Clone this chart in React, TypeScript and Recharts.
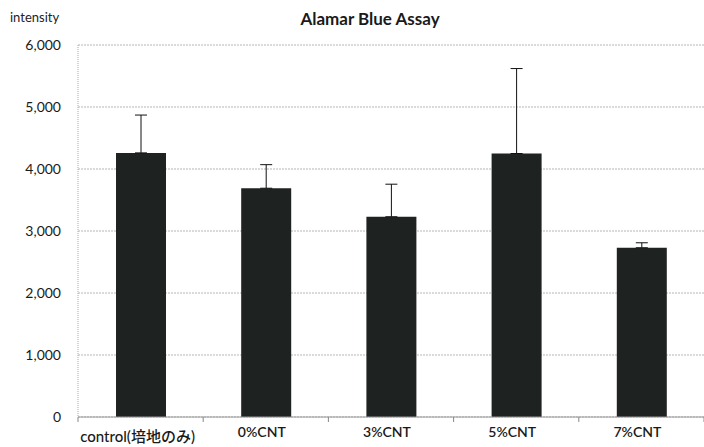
import { BarChart, Bar, XAxis, YAxis, CartesianGrid, ErrorBar } from 'recharts';

// Alamar Blue Assay: intensity per sample group, with upward SD error bars
const categories = ['control(培地のみ)', '0%CNT', '3%CNT', '5%CNT', '7%CNT'];
const intensity = [4260, 3690, 3230, 4250, 2730];
const errorUp = [610, 380, 525, 1370, 80];
const yTicks = [0, 1000, 2000, 3000, 4000, 5000, 6000];

const data = categories.map((name, i) => ({
  name,
  value: intensity[i],
  err: [0, errorUp[i]],
}));

const FONT = 'Lato, "Open Sans", "Noto Sans CJK JP", sans-serif';

function CategoryTick(props: any) {
  const { x, y, payload, index } = props;
  const half = 62.6;
  const first = index === 0;
  return (
    <g>
      <line x1={x - half} y1={y - 8} x2={x - half} y2={y - 3} stroke="#888" />
      {index === categories.length - 1 && (
        <line x1={x + half} y1={y - 8} x2={x + half} y2={y - 3} stroke="#888" />
      )}
      <text
        x={first ? x - 3 : x - 4}
        y={y + (first ? 17 : 12)}
        textAnchor="middle"
        fontSize={first ? 15 : 14}
        fontWeight={first ? 500 : 600}
        fill="#1a1a1a"
        fontFamily={FONT}
      >
        {payload.value}
      </text>
    </g>
  );
}

export default function App() {
  return (
    <div style={{ position: 'absolute', left: 0, top: 0, width: 704, height: 447, background: '#fff', fontFamily: FONT }}>
      <div style={{ position: 'absolute', left: 10, top: 9, fontSize: 13, color: '#222' }}>intensity</div>
      <div style={{ position: 'absolute', left: 0, width: 740, top: 8, textAlign: 'center', fontSize: 17, fontWeight: 700, color: '#1a1a1a' }}>
        Alamar Blue Assay
      </div>
      <BarChart
        width={704}
        height={447}
        data={data}
        margin={{ top: 45, right: 0, left: 0, bottom: 0 }}
        barSize={50}
      >
        <CartesianGrid vertical={false} stroke="#b5b5b5" strokeDasharray="2 1" />
        <XAxis
          dataKey="name"
          height={30}
          stroke="#999"
          tickLine={false}
          interval={0}
          tick={<CategoryTick />}
        />
        <YAxis
          width={78}
          domain={[0, 6000]}
          ticks={yTicks}
          stroke="#aaa"
          strokeDasharray="1 1"
          tickLine={false}
          tickFormatter={(v: number) => v.toLocaleString('en-US')}
          tick={{ fill: '#1a1a1a', fontSize: 14, fontFamily: FONT, dx: -9 }}
        />
        <Bar dataKey="value" fill="#1e2220" isAnimationActive={false}>
          <ErrorBar dataKey="err" direction="y" width={6} stroke="#111" strokeWidth={1} />
        </Bar>
      </BarChart>
    </div>
  );
}
